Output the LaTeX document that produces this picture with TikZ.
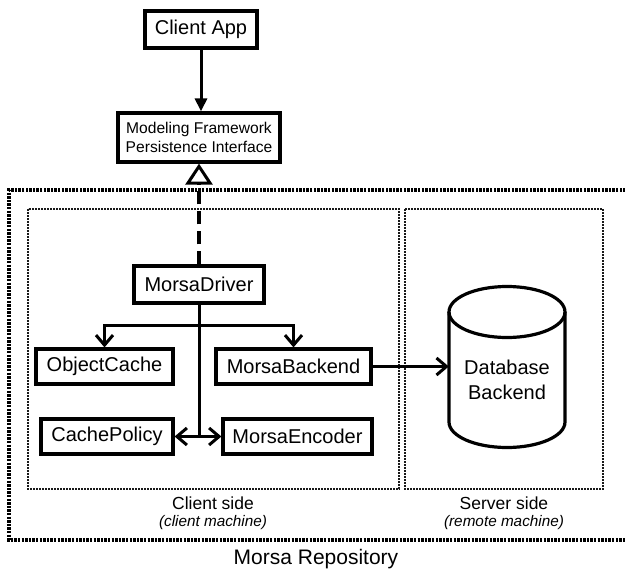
\documentclass[tikz,border=0pt]{standalone}
\usepackage{fontspec}
\setmainfont{Liberation Sans}
\usetikzlibrary{arrows.meta}
\begin{document}
\begin{tikzpicture}[x=1pt,y=-1pt,
  box/.style={draw, line width=3.2pt, rectangle, inner sep=0pt,
    minimum height=36pt, font=\fontsize{20}{24}\selectfont},
  link/.style={line width=3pt, line join=miter},
  barb/.style={-{Straight Barb[length=10pt,width=17pt,line width=3pt]}},
  barbs/.style={{Straight Barb[length=10pt,width=17pt,line width=3pt]}-{Straight Barb[length=10pt,width=17pt,line width=3pt]}},
  zone/.style={line width=2.6pt, dash pattern=on 2pt off 1pt, black!90},
  outerzone/.style={line width=3.2pt, dash pattern=on 2.4pt off 1.2pt},
  sidelabel/.style={font=\fontsize{17.5}{20}\selectfont, inner sep=0pt},
  sidenote/.style={font=\fontsize{15.3}{18}\selectfont\itshape, inner sep=0pt}
]
\useasboundingbox (0,0) rectangle (625,570);
\clip (0,0) rectangle (625,570);

% repository and machine zones
\draw[outerzone] (640,190) -- (9,190) -- (9,540) -- (640,540);
\draw[zone] (28,209) rectangle (399,489);
\draw[zone] (405,209) rectangle (603,489);

% components
\node[box, minimum width=112pt, minimum height=37pt] (app) at (201,29.5) {Client App};
\node[box, minimum width=162pt, minimum height=49pt, align=center,
  font=\fontsize{15.6}{19}\selectfont] (mf) at (199,137.5)
  {Modeling Framework\\Persistence Interface};
\node[box, minimum width=130pt, minimum height=37pt] (driver) at (199,284.5) {MorsaDriver};
\node[box, minimum width=137pt, minimum height=35pt] (cache) at (104.5,366.5) {ObjectCache};
\node[box, minimum width=155pt, minimum height=35pt] (backend) at (293.5,366.5) {MorsaBackend};
\node[box, minimum width=132pt, minimum height=35pt] (policy) at (107,436.5) {CachePolicy};
\node[box, minimum width=149pt, minimum height=35pt] (encoder) at (297.5,436.5) {MorsaEncoder};

% database cylinder
\node[minimum width=116pt, minimum height=162pt, inner sep=0pt, align=center,
  font=\fontsize{20}{25}\selectfont] (db) at (507,379.5) {Database\\Backend};
\draw[line width=3.2pt] (507,312) ellipse [x radius=58pt, y radius=25.5pt];
\draw[line width=3.2pt] (449,312) -- (449,422)
  arc[start angle=180, end angle=360, x radius=58pt, y radius=25.5pt] -- (565,312);

% connectors
\draw[link, -{Triangle[length=13pt,width=12pt]}] (app.south) -- (app.south |- mf.north);
\draw[line width=3.2pt, dash pattern=on 13pt off 7pt,
  -{Triangle[open,length=21pt,width=27pt,line width=3pt]}]
  (driver.north) -- (driver.north |- mf.south);
\coordinate (split) at ([yshift=-21pt]driver.south);
\draw[link] (driver.south) -- (driver.south |- policy.east);
\draw[link, barb] (split) -| (cache.north);
\draw[link, barb] (split) -| (backend.north);
\draw[link, barbs] (policy.east) -- (encoder.west);
\draw[link, barb] (backend.east) -- (backend.east -| db.west);

% zone labels
\node[sidelabel] (clientlbl) at (213,503) {Client side};
\node[sidenote] (clientnote) at (213,523) {(client machine)};
\node[sidelabel] (serverlbl) at (504,503) {Server side};
\node[sidenote] (servernote) at (504,523) {(remote machine)};
\node[font=\fontsize{21}{24}\selectfont, inner sep=0pt] (repo) at (316,559) {Morsa Repository};
\end{tikzpicture}
\end{document}
